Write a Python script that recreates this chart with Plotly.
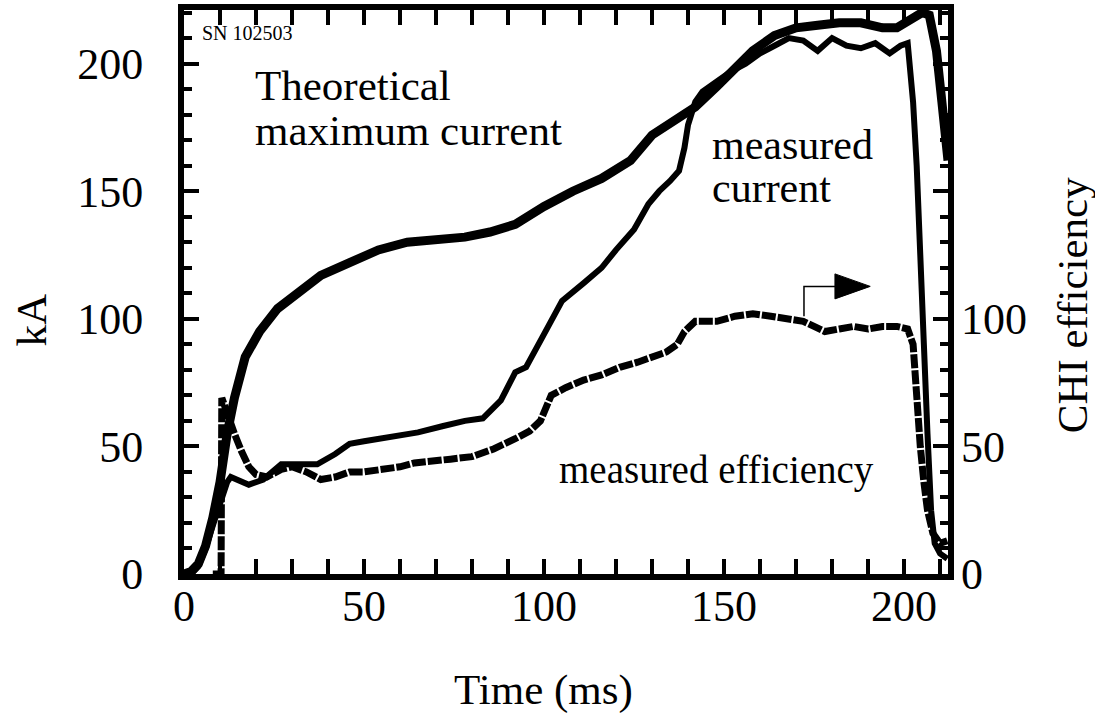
import plotly.graph_objects as go

# Time (ms) and values
theo_t = [0, 2, 4, 6, 8, 10, 12, 14, 17, 21, 26, 32, 38, 46, 54, 62, 70, 78, 85, 92,
          100, 108, 116, 124, 130, 136, 142, 148, 154, 158, 164, 170, 176, 182, 188,
          194, 198, 202, 205, 207, 209, 210.5, 212.2]
theo_kA = [0, 1, 4, 11, 22, 36, 55, 69, 85, 95, 104, 111, 117, 122, 127, 130, 131, 132,
           134, 137, 144, 150, 155, 162, 172, 177, 183, 191, 199, 205, 211, 214, 215,
           216, 216, 214, 214, 217, 220, 219, 205, 185, 162]

meas_t = [0, 2, 4, 6, 8, 10, 12, 13, 15, 18, 22, 27, 32, 37, 42, 46, 50, 55, 60, 65, 72,
          78, 83, 88, 92, 95, 100, 105, 111, 116, 120, 125, 129, 132, 135, 137.5, 139,
          140, 142, 144, 148, 152, 156, 160, 164, 168, 172, 176, 180, 184, 188, 192, 196,
          199, 201, 202.5, 203.5, 204.5, 205.5, 206.5, 207.5, 208.5, 210, 212]
meas_kA = [0, 0, 3, 10, 19, 28, 36, 38, 37, 35, 37, 43, 43, 43, 47, 51, 52, 53, 54, 55.5,
           58, 60, 61, 68, 79, 81, 94, 107, 114, 120, 127, 135, 145, 150, 154, 158, 167,
           176, 185, 189, 193, 197, 200, 204, 207, 210, 209, 205, 210, 207, 206, 208, 204,
           207, 208, 185, 160, 130, 90, 55, 25, 12, 8, 6]

eff_t = [8, 10.3, 10.5, 12, 14, 16, 18, 20, 23, 27, 30, 34, 38, 42, 46, 50, 55, 60, 64,
         70, 74, 80, 86, 92, 96, 99, 102, 106, 111, 116, 121, 126, 130, 134, 137, 139,
         142, 148, 153, 158, 163, 167, 172, 175, 178, 182, 186, 190, 194, 198, 201,
         202.5, 203.5, 204.5, 205.5, 206.5, 208, 210, 212]
eff_pct = [0, 0, 69, 62, 55, 48, 42, 39, 38, 41, 42, 40, 37, 38, 40, 40, 41, 42, 43.5,
           44, 45, 46, 49, 53, 56, 60, 70, 73, 76, 78, 81, 83, 85, 87, 90, 95, 99, 99,
           101, 102, 101, 100, 99, 97, 95, 96, 97, 96, 97, 97, 96, 90, 68, 50, 36, 25,
           16, 12, 13]

x_ticks = [0, 50, 100, 150, 200]
y_ticks = [0, 50, 100, 150, 200]
eff_ticks = [0, 50, 100]

FONT = "Liberation Serif"
BLACK = "black"

fig = go.Figure()
fig.add_trace(go.Scatter(x=theo_t, y=theo_kA, mode="lines",
                         line=dict(color=BLACK, width=9), name="Theoretical maximum current"))
fig.add_trace(go.Scatter(x=meas_t, y=meas_kA, mode="lines",
                         line=dict(color=BLACK, width=6), name="measured current"))
fig.add_trace(go.Scatter(x=eff_t, y=eff_pct, mode="lines", yaxis="y2",
                         line=dict(color=BLACK, width=7, dash="14px,2px"),
                         name="measured efficiency"))

tickfont = dict(family=FONT, size=44, color=BLACK)
fig.update_layout(
    width=1095, height=717,
    margin=dict(l=184, r=147, t=10, b=143),
    paper_bgcolor="white", plot_bgcolor="white",
    showlegend=False,
    font=dict(family=FONT, color=BLACK),
    xaxis=dict(range=[0, 212.2], tickvals=x_ticks, ticks="inside", ticklen=15, tickwidth=4,
               minor=dict(dtick=10, ticks="inside", ticklen=8, tickwidth=4, tickcolor=BLACK),
               tickcolor=BLACK, showline=True, linewidth=6, linecolor=BLACK, mirror="allticks",
               showgrid=False, zeroline=False, tickfont=tickfont, ticklabelstandoff=-12,
               automargin=False),
    yaxis=dict(range=[0, 221], tickvals=y_ticks, ticks="inside", ticklen=15, tickwidth=4,
               minor=dict(dtick=10, ticks="inside", ticklen=8, tickwidth=4, tickcolor=BLACK),
               tickcolor=BLACK, showline=True, linewidth=6, linecolor=BLACK, mirror="allticks",
               showgrid=False, zeroline=False, tickfont=tickfont, ticklabelstandoff=26,
               automargin=False),
    yaxis2=dict(range=[0, 221], overlaying="y", side="right", tickvals=eff_ticks,
                ticks="", showline=False, showgrid=False, zeroline=False,
                tickfont=tickfont, ticklabelstandoff=12, automargin=False),
)

# arrow marking the efficiency curve's axis
fig.add_shape(type="path", xref="x", yref="y",
              path="M 172.2 101 L 172.2 112.7 L 181 112.7",
              line=dict(color=BLACK, width=1.5))
fig.add_shape(type="path", xref="x", yref="y",
              path="M 180.8 117.6 L 190.6 112.7 L 180.8 107.8 Z",
              line=dict(color=BLACK, width=1), fillcolor=BLACK)

# axis titles (placed like the reference)
fig.add_annotation(x=0.470, y=-0.206, xref="paper", yref="paper", text="Time (ms)",
                   showarrow=False, xanchor="center", yanchor="middle",
                   font=dict(family=FONT, size=43, color=BLACK))
fig.add_annotation(x=-0.200, y=0.450, xref="paper", yref="paper", text="kA",
                   showarrow=False, textangle=-90, xanchor="center", yanchor="middle",
                   font=dict(family=FONT, size=43, color=BLACK))
fig.add_annotation(x=1.164, y=0.477, xref="paper", yref="paper", text="CHI efficiency",
                   showarrow=False, textangle=-90, xanchor="center", yanchor="middle",
                   font=dict(family=FONT, size=43, color=BLACK))

labels = [
    ("SN 102503", 0.021, 0.959, 20),
    ("Theoretical", 0.090, 0.867, 43),
    ("maximum current", 0.090, 0.787, 43),
    ("measured", 0.688, 0.761, 42),
    ("current", 0.688, 0.684, 42),
    ("measured efficiency", 0.488, 0.184, 39),
]
for txt, xp, yp, sz in labels:
    fig.add_annotation(x=xp, y=yp, xref="paper", yref="paper", text=txt,
                       showarrow=False, xanchor="left", yanchor="middle", align="left",
                       font=dict(family=FONT, size=sz, color=BLACK))

fig.write_html("out.html")
